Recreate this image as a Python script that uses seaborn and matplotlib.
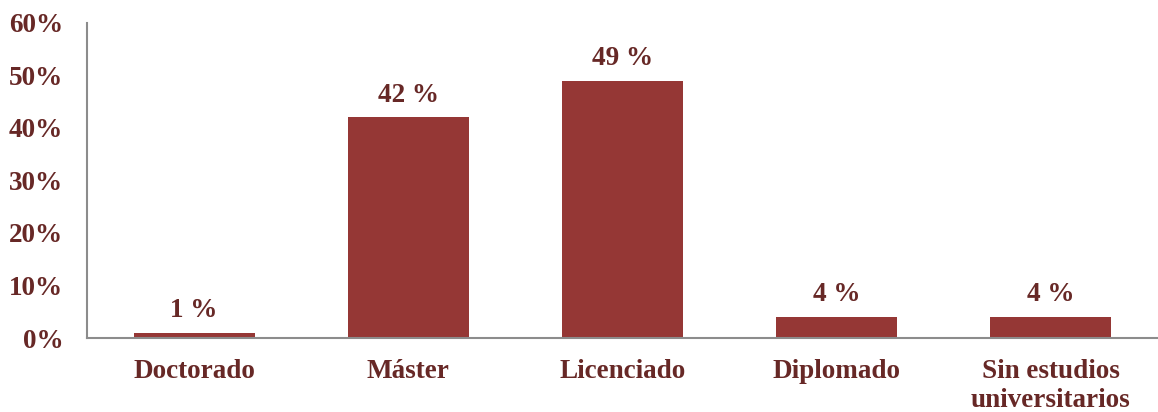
import matplotlib
matplotlib.use("Agg")
import matplotlib.pyplot as plt
import seaborn as sns
import pandas as pd
from matplotlib.ticker import FuncFormatter

categories = ["Doctorado", "Máster", "Licenciado", "Diplomado", "Sin estudios\nuniversitarios"]
shares = [1, 42, 49, 4, 4]
y_ticks = [0, 10, 20, 30, 40, 50, 60]

bar_color = "#953735"
text_color = "#672826"
axis_color = "#8c8c8c"
font_size = 19.5

sns.set_theme(style="white")
plt.rcParams["font.family"] = ["Liberation Serif", "DejaVu Serif"]
plt.rcParams["font.weight"] = "bold"

df = pd.DataFrame({"nivel": categories, "pct": shares})

fig = plt.figure(figsize=(11.58, 4.12), dpi=100)
ax = fig.add_axes([0.0751, 0.1796, 0.9249, 0.7646])

sns.barplot(data=df, x="nivel", y="pct", color=bar_color, width=0.565,
            saturation=1, ax=ax)

for p in ax.patches:
    p.set_edgecolor("none")

ax.bar_label(ax.containers[0], labels=[f"{v} %" for v in shares],
             padding=7, fontsize=font_size, fontweight="bold", color=text_color)

ax.set_xlim(-0.5, 4.5)
ax.set_ylim(0, 60)
ax.set_yticks(y_ticks)
ax.yaxis.set_major_formatter(FuncFormatter(lambda v, _: f"{v:.0f}%"))
ax.set_xlabel("")
ax.set_ylabel("")

ax.tick_params(axis="both", length=0, labelsize=font_size, labelcolor=text_color)
ax.tick_params(axis="y", pad=17)
ax.tick_params(axis="x", pad=15)
for lbl in ax.get_xticklabels() + ax.get_yticklabels():
    lbl.set_fontweight("bold")
    lbl.set_linespacing(1.2)

for side in ["top", "right"]:
    ax.spines[side].set_visible(False)
for side in ["left", "bottom"]:
    ax.spines[side].set_color(axis_color)
    ax.spines[side].set_linewidth(1.5)
ax.grid(False)

fig.savefig("out.png", dpi=100, facecolor="white")
